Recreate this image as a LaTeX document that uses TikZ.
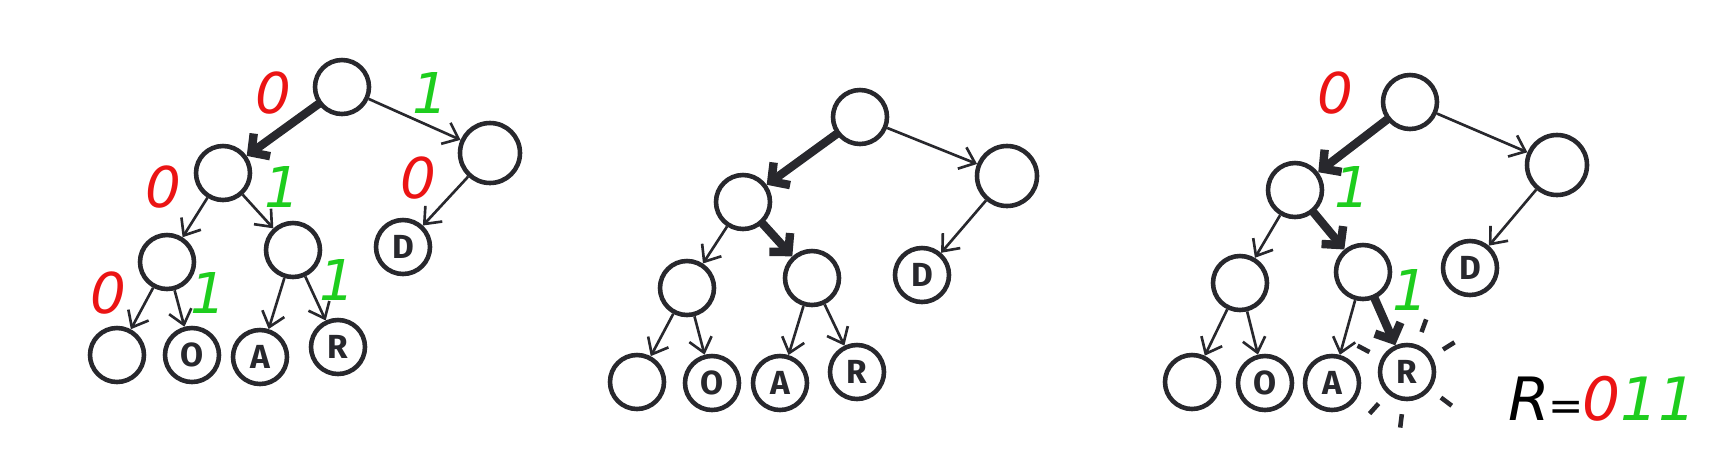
\documentclass[tikz,border=0pt]{standalone}
\usepackage{fontspec}
\setsansfont{Fira Sans}
\newfontfamily\bitfont{DejaVu Sans}
\usetikzlibrary{arrows.meta}

\definecolor{bitred}{RGB}{235,20,20}
\definecolor{bitgreen}{RGB}{30,205,30}
\definecolor{ink}{RGB}{40,40,45}

\begin{document}
\begin{tikzpicture}[
  tn/.style={circle,draw=ink,line width=2.6pt,minimum size=1.08cm,inner sep=0pt,font=\sffamily\bfseries\fontsize{19}{19}\selectfont,text=ink},
  tnbig/.style={tn,minimum size=1.2cm},
  edge/.style={draw=ink,line width=1.5pt,-{Straight Barb[length=2.8mm,width=4.6mm]}},
  hot/.style={draw=ink,line width=4.8pt,line cap=round,-{Straight Barb[length=2.6mm,width=5.6mm]}},
  zero/.style={text=bitred,font=\bitfont\itshape\fontsize{32}{32}\selectfont},
  one/.style={text=bitgreen,font=\bitfont\itshape\fontsize{32}{32}\selectfont},
  sparkle/.style={draw=ink,line width=2.6pt}
]
\useasboundingbox (0,0) rectangle (34.56,-9.40);

% tree 1: every edge labelled
\node[tn] (a1) at (6.84,-1.74) {};
\node[tn] (b1) at (4.46,-3.46) {};
\node[tnbig] (c1) at (9.80,-3.06) {};
\node[tn] (d1) at (3.34,-5.24) {};
\node[tn] (e1) at (5.86,-5.00) {};
\node[tn] (f1) at (8.06,-4.94) {D};
\node[tn] (g1) at (2.34,-7.10) {};
\node[tn] (h1) at (3.84,-7.10) {O};
\node[tn] (i1) at (5.20,-7.14) {A};
\node[tn] (j1) at (6.76,-6.94) {R};
\draw[hot] (a1)--(b1);
\draw[edge] (a1)--(c1);
\draw[edge] (b1)--(d1);
\draw[edge] (b1)--(e1);
\draw[edge] (c1)--(f1);
\draw[edge] (d1)--(g1);
\draw[edge] (d1)--(h1);
\draw[edge] (e1)--(i1);
\draw[edge] (e1)--(j1);
\node[zero] (z1a) at (5.46,-1.86) {0};
\node[one] (o1a) at (8.60,-1.86) {1};
\node[zero] (z1b) at (3.26,-3.74) {0};
\node[one] (o1b) at (5.64,-3.74) {1};
\node[zero] (z1c) at (8.36,-3.56) {0};
\node[zero] (z1d) at (2.16,-5.86) {0};
\node[one] (o1c) at (4.16,-5.86) {1};
\node[one] (o1d) at (6.74,-5.60) {1};

% tree 2: path only
\node[tn] (a2) at (17.20,-2.34) {};
\node[tn] (b2) at (14.86,-4.04) {};
\node[tnbig] (c2) at (20.14,-3.52) {};
\node[tn] (d2) at (13.74,-5.76) {};
\node[tn] (e2) at (16.24,-5.56) {};
\node[tn] (f2) at (18.44,-5.50) {D};
\node[tn] (g2) at (12.74,-7.64) {};
\node[tn] (h2) at (14.24,-7.66) {O};
\node[tn] (i2) at (15.60,-7.66) {A};
\node[tn] (j2) at (17.14,-7.44) {R};
\draw[hot] (a2)--(b2);
\draw[edge] (a2)--(c2);
\draw[edge] (b2)--(d2);
\draw[hot] (b2)--(e2);
\draw[edge] (c2)--(f2);
\draw[edge] (d2)--(g2);
\draw[edge] (d2)--(h2);
\draw[edge] (e2)--(i2);
\draw[edge] (e2)--(j2);

% tree 3: code for R
\node[tn] (a3) at (28.20,-2.04) {};
\node[tn] (b3) at (25.90,-3.80) {};
\node[tnbig] (c3) at (31.14,-3.30) {};
\node[tn] (d3) at (24.80,-5.66) {};
\node[tn] (e3) at (27.26,-5.44) {};
\node[tn] (f3) at (29.40,-5.36) {D};
\node[tn] (g3) at (23.84,-7.64) {};
\node[tn] (h3) at (25.30,-7.66) {O};
\node[tn] (i3) at (26.64,-7.66) {A};
\node[tn] (j3) at (28.14,-7.44) {R};
\draw[hot] (a3)--(b3);
\draw[edge] (a3)--(c3);
\draw[edge] (b3)--(d3);
\draw[hot] (b3)--(e3);
\draw[edge] (c3)--(f3);
\draw[edge] (d3)--(g3);
\draw[edge] (d3)--(h3);
\draw[edge] (e3)--(i3);
\draw[hot] (e3)--(j3);
\node[zero] (z3a) at (26.70,-1.86) {0};
\node[one] (o3a) at (27.04,-3.74) {1};
\node[one] (o3b) at (28.20,-5.80) {1};
\foreach \a in {70,32,-37,-97,-132,152}
  \draw[sparkle] ([shift={(\a:0.85)}]j3.center) -- ([shift={(\a:1.12)}]j3.center);
\node[font=\bitfont\itshape\fontsize{34}{34}\selectfont,anchor=west] (code) at (30.05,-7.98) {R\kern-1pt{\fontsize{24}{24}\selectfont=}\kern-1pt\textcolor{bitred}{0}\textcolor{bitgreen}{11}};
\end{tikzpicture}
\end{document}
